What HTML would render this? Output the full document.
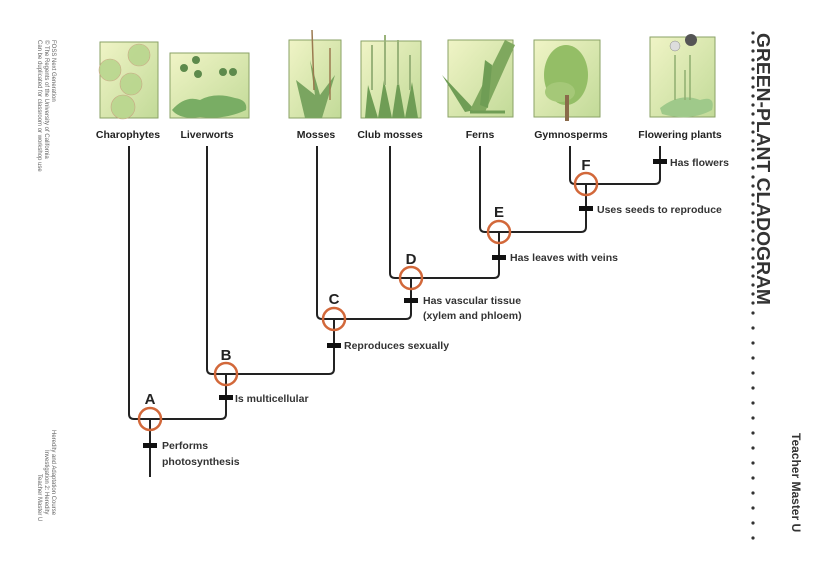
<!DOCTYPE html>
<html><head><meta charset="utf-8"><style>
html,body{margin:0;padding:0;background:#fff;}
svg{display:block;}
text{font-family:"Liberation Sans",sans-serif;}
</style></head><body>
<svg width="828" height="566" viewBox="0 0 828 566" xmlns="http://www.w3.org/2000/svg">
<defs>
<linearGradient id="g" x1="0" y1="0" x2="1" y2="1"><stop offset="0" stop-color="#f0f4c6"/><stop offset="1" stop-color="#c2da98"/></linearGradient>
</defs>
<!-- picture boxes -->
<g stroke="#8aa266" stroke-width="1" fill="url(#g)">
<rect x="100" y="42" width="58" height="76"/>
<rect x="170" y="53" width="79" height="65"/>
<rect x="289" y="40" width="52" height="78"/>
<rect x="361" y="41" width="60" height="77"/>
<rect x="448" y="40" width="65" height="77"/>
<rect x="534" y="40" width="66" height="77"/>
<rect x="650" y="37" width="65" height="80"/>
</g>
<!-- simple plant shapes -->
<g>
<g fill="#b9d68e" stroke="#c9a080" stroke-width="0.6" opacity="0.9">
<circle cx="139" cy="55" r="11"/><circle cx="110" cy="70" r="11"/><circle cx="131" cy="84" r="11"/><circle cx="123" cy="107" r="12"/>
</g>
<path d="M172 110 Q185 95 200 100 Q215 92 235 98 Q248 100 246 110 Q225 120 200 117 Q180 120 172 110 Z" fill="#79ad64"/>
<g fill="#5d8a4c"><circle cx="184" cy="68" r="4"/><circle cx="196" cy="60" r="4"/><circle cx="198" cy="74" r="4"/><circle cx="223" cy="72" r="4"/><circle cx="233" cy="72" r="4"/></g>
<path d="M305 118 L296 80 L315 95 L310 60 L320 95 L335 75 L322 118 Z" fill="#7aa560"/>
<path d="M312 30 L314 90 M330 48 L330 100" stroke="#9b7a50" stroke-width="1.5"/>
<path d="M365 118 L368 85 L378 118 L384 80 L392 118 L398 78 L405 118 L412 82 L418 118 Z" fill="#6f9d55"/>
<path d="M372 90 V45 M385 85 V35 M398 85 V40 M410 90 V55" stroke="#9ab37a" stroke-width="2"/>
<path d="M442 75 L475 110 L465 112 Z" fill="#6f9d55"/>
<path d="M470 110 L505 40 L515 45 L485 112 Z" fill="#7fa85e"/>
<path d="M480 105 L485 60 L492 65 L488 108 Z" fill="#6f9d55"/>
<path d="M470 112 H505" stroke="#6f9d55" stroke-width="3"/>
<ellipse cx="566" cy="75" rx="22" ry="30" fill="#94be66"/><ellipse cx="560" cy="92" rx="15" ry="10" fill="#a5c878"/>
<rect x="565" y="95" width="4" height="26" fill="#8a6a4a"/>
<path d="M660 108 Q680 92 700 100 Q716 95 712 110 Q690 122 662 114 Z" fill="#9fc98a"/>
<path d="M675 100 V55 M690 100 V55 M685 100 V70" stroke="#8fae70" stroke-width="1.5"/>
<circle cx="675" cy="46" r="5" fill="#ddd" stroke="#888" stroke-width="0.5"/><circle cx="691" cy="40" r="6" fill="#555"/>
</g>
<!-- labels -->
<g font-size="10.5" font-weight="bold" fill="#222" text-anchor="middle">
<text x="128" y="138">Charophytes</text>
<text x="207" y="138">Liverworts</text>
<text x="316" y="138">Mosses</text>
<text x="390" y="138">Club mosses</text>
<text x="480" y="138">Ferns</text>
<text x="571" y="138">Gymnosperms</text>
<text x="680" y="138">Flowering plants</text>
</g>
<!-- tree lines -->
<g stroke="#222" stroke-width="2" fill="none" stroke-linejoin="round">
<path d="M129 146 V414 Q129 419 134 419 H221 Q226 419 226 414 V374"/>
<path d="M207 146 V369 Q207 374 212 374 H329 Q334 374 334 369 V319"/>
<path d="M317 146 V314 Q317 319 322 319 H406 Q411 319 411 314 V278"/>
<path d="M390 146 V273 Q390 278 395 278 H494 Q499 278 499 273 V232"/>
<path d="M480 146 V227 Q480 232 485 232 H581 Q586 232 586 227 V184"/>
<path d="M570 146 V179 Q570 184 575 184 H655 Q660 184 660 179 V146"/>
<path d="M150 419 V477"/>
</g>
<!-- ticks -->
<g fill="#111">
<rect x="143" y="443" width="14" height="5"/>
<rect x="219" y="395" width="14" height="5"/>
<rect x="327" y="343" width="14" height="5"/>
<rect x="404" y="298" width="14" height="5"/>
<rect x="492" y="255" width="14" height="5"/>
<rect x="579" y="206" width="14" height="5"/>
<rect x="653" y="159" width="14" height="5"/>
</g>
<!-- nodes -->
<g stroke="#d2683a" stroke-width="2.5" fill="none">
<circle cx="150" cy="419" r="11"/>
<circle cx="226" cy="374" r="11"/>
<circle cx="334" cy="319" r="11"/>
<circle cx="411" cy="278" r="11"/>
<circle cx="499" cy="232" r="11"/>
<circle cx="586" cy="184" r="11"/>
</g>
<g font-size="15" font-weight="bold" fill="#222" text-anchor="middle">
<text x="150" y="404">A</text>
<text x="226" y="360">B</text>
<text x="334" y="304">C</text>
<text x="411" y="264">D</text>
<text x="499" y="217">E</text>
<text x="586" y="170">F</text>
</g>
<g font-size="10.5" font-weight="bold" fill="#333">
<text x="162" y="449">Performs</text>
<text x="162" y="465">photosynthesis</text>
<text x="235" y="402">Is multicellular</text>
<text x="344" y="349">Reproduces sexually</text>
<text x="423" y="304">Has vascular tissue</text>
<text x="423" y="319">(xylem and phloem)</text>
<text x="510" y="261">Has leaves with veins</text>
<text x="597" y="213">Uses seeds to reproduce</text>
<text x="670" y="166">Has flowers</text>
</g>
<!-- side texts -->
<g font-size="6" fill="#666">
<text transform="translate(52,40) rotate(90)">FOSS Next Generation</text>
<text transform="translate(45,40) rotate(90)">© The Regents of the University of California</text>
<text transform="translate(38,40) rotate(90)">Can be duplicated for classroom or workshop use</text>
<text transform="translate(52,430) rotate(90)">Heredity and Adaptation Course</text>
<text transform="translate(45,450) rotate(90)">Investigation 2: Heredity</text>
<text transform="translate(38,474) rotate(90)">Teacher Master U</text>
</g>
<text transform="translate(757,33) rotate(90)" font-size="18" font-weight="bold" fill="#333" textLength="272" lengthAdjust="spacingAndGlyphs">GREEN-PLANT CLADOGRAM</text>
<text transform="translate(792,433) rotate(90)" font-size="12" font-weight="bold" fill="#333">Teacher Master U</text>
<g fill="#333">
<circle cx="753" cy="33" r="1.6"/><circle cx="753" cy="42" r="1.6"/><circle cx="753" cy="51" r="1.6"/><circle cx="753" cy="60" r="1.6"/><circle cx="753" cy="69" r="1.6"/><circle cx="753" cy="78" r="1.6"/><circle cx="753" cy="87" r="1.6"/><circle cx="753" cy="96" r="1.6"/><circle cx="753" cy="105" r="1.6"/><circle cx="753" cy="114" r="1.6"/><circle cx="753" cy="123" r="1.6"/><circle cx="753" cy="132" r="1.6"/><circle cx="753" cy="141" r="1.6"/><circle cx="753" cy="150" r="1.6"/><circle cx="753" cy="159" r="1.6"/><circle cx="753" cy="168" r="1.6"/><circle cx="753" cy="177" r="1.6"/><circle cx="753" cy="186" r="1.6"/><circle cx="753" cy="195" r="1.6"/><circle cx="753" cy="204" r="1.6"/><circle cx="753" cy="213" r="1.6"/><circle cx="753" cy="222" r="1.6"/><circle cx="753" cy="231" r="1.6"/><circle cx="753" cy="240" r="1.6"/><circle cx="753" cy="249" r="1.6"/><circle cx="753" cy="258" r="1.6"/><circle cx="753" cy="267" r="1.6"/><circle cx="753" cy="276" r="1.6"/><circle cx="753" cy="285" r="1.6"/><circle cx="753" cy="294" r="1.6"/><circle cx="753" cy="303" r="1.6"/><circle cx="753" cy="313" r="1.6"/><circle cx="753" cy="328" r="1.6"/><circle cx="753" cy="343" r="1.6"/><circle cx="753" cy="358" r="1.6"/><circle cx="753" cy="373" r="1.6"/><circle cx="753" cy="388" r="1.6"/><circle cx="753" cy="403" r="1.6"/><circle cx="753" cy="418" r="1.6"/><circle cx="753" cy="433" r="1.6"/><circle cx="753" cy="448" r="1.6"/><circle cx="753" cy="463" r="1.6"/><circle cx="753" cy="478" r="1.6"/><circle cx="753" cy="493" r="1.6"/><circle cx="753" cy="508" r="1.6"/><circle cx="753" cy="523" r="1.6"/><circle cx="753" cy="538" r="1.6"/>
</g>
</svg>
</body></html>
